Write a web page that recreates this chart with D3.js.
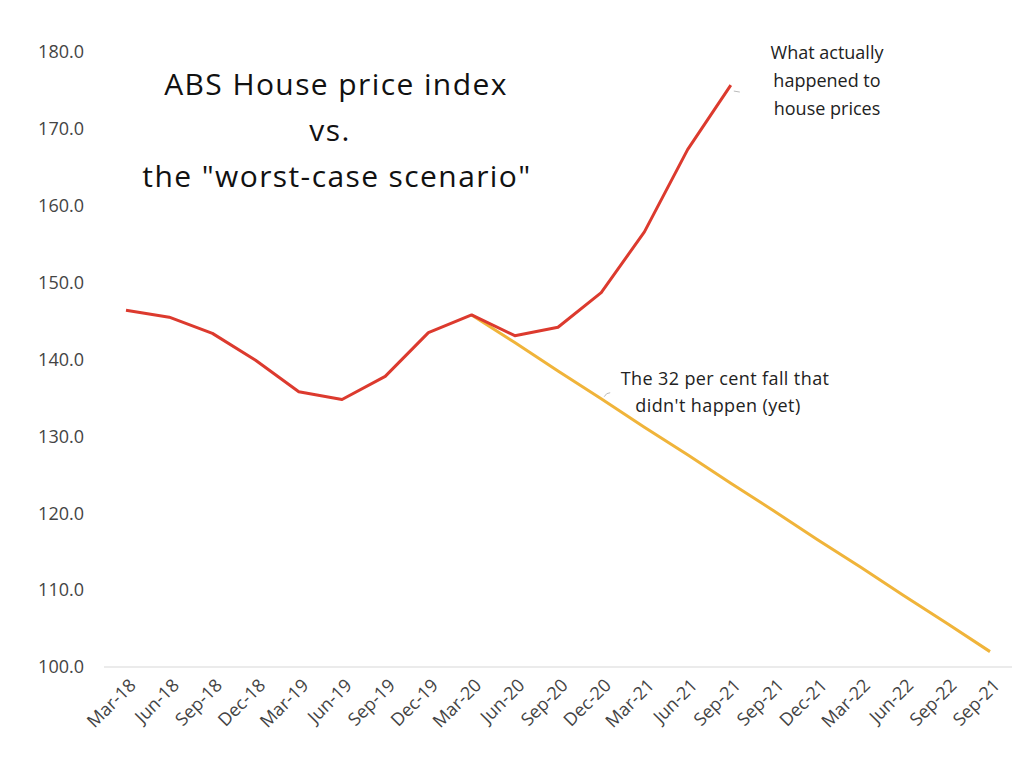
<!DOCTYPE html>
<html lang="en">
<head>
    <meta charset="UTF-8">
    <title>ABS House price index vs. the worst-case scenario</title>
    <script src="https://d3js.org/d3.v7.min.js"></script>
    <style>
        body {
            margin: 0;
            padding: 0;
            background-color: #ffffff;
        }
        svg text {
            font-family: 'Open Sans', sans-serif;
        }
    </style>
</head>
<body>
    <div id="chart"></div>
    <script>
        // quarter labels as they appear on the chart (the duplicates are in the original)
        var quarters = ['Mar-18', 'Jun-18', 'Sep-18', 'Dec-18', 'Mar-19', 'Jun-19', 'Sep-19', 'Dec-19',
            'Mar-20', 'Jun-20', 'Sep-20', 'Dec-20', 'Mar-21', 'Jun-21', 'Sep-21', 'Sep-21',
            'Dec-21', 'Mar-22', 'Jun-22', 'Sep-22', 'Sep-21'];

        // ABS house price index, Mar-18 .. Sep-21
        var actual = [146.4, 145.5, 143.4, 139.9, 135.8, 134.8, 137.8, 143.5,
            145.8, 143.1, 144.2, 148.7, 156.6, 167.3, 175.7];

        // the "worst-case" 32 per cent fall, from Mar-20 to the last quarter
        var scenarioStart = 8;
        var scenario = [145.8, 142.2, 138.5, 134.9, 131.2, 127.6, 123.9,
            120.3, 116.6, 113.0, 109.3, 105.7, 102.0];

        var yTicks = [100, 110, 120, 130, 140, 150, 160, 170, 180];

        var width = 1024, height = 768;

        var svg = d3.select("#chart")
            .append("svg")
            .attr("width", width)
            .attr("height", height);

        var x = d3.scalePoint()
            .domain(d3.range(quarters.length))
            .range([126, 990]);

        var y = d3.scaleLinear()
            .domain([100, 180])
            .range([667, 52]);

        // baseline
        svg.append("line")
            .attr("x1", 104).attr("x2", 1012)
            .attr("y1", y(100)).attr("y2", y(100))
            .attr("stroke", "#e4e4e4")
            .attr("stroke-width", 1.5);

        // y axis labels
        var yAxis = svg.append("g")
            .attr("transform", "translate(84,0)")
            .call(d3.axisLeft(y).tickValues(yTicks).tickFormat(d3.format(".1f")).tickSize(0).tickPadding(0));
        yAxis.select(".domain").remove();
        yAxis.selectAll("text")
            .style("font-size", "18px")
            .attr("fill", "#444");

        // x axis labels, rotated
        var xAxis = svg.append("g")
            .attr("transform", "translate(0," + (y(100) + 12) + ")")
            .call(d3.axisBottom(x).tickFormat(function (i) { return quarters[i]; }).tickSize(0).tickPadding(0));
        xAxis.select(".domain").remove();
        xAxis.selectAll("text")
            .style("font-size", "18px")
            .attr("fill", "#444")
            .attr("dy", "0.35em")
            .attr("transform", "translate(6,3) rotate(-45)")
            .style("text-anchor", "end");

        var line = d3.line()
            .x(function (d) { return x(d.i); })
            .y(function (d) { return y(d.v); });

        var scenarioData = scenario.map(function (v, k) { return { i: scenarioStart + k, v: v }; });
        var actualData = actual.map(function (v, k) { return { i: k, v: v }; });

        svg.append("path")
            .datum(scenarioData)
            .attr("fill", "none")
            .attr("stroke", "#f0b43a")
            .attr("stroke-width", 3)
            .attr("d", line);

        svg.append("path")
            .datum(actualData)
            .attr("fill", "none")
            .attr("stroke", "#dc3a2e")
            .attr("stroke-width", 3)
            .attr("stroke-linejoin", "round")
            .attr("d", line);

        // title
        var title = svg.append("text")
            .attr("text-anchor", "middle")
            .style("font-size", "30px")
            .style("letter-spacing", "1.4px")
            .attr("fill", "#111");
        title.append("tspan").attr("x", 336).attr("y", 95).text("ABS House price index");
        title.append("tspan").attr("x", 330).attr("y", 141).text("vs.");
        title.append("tspan").attr("x", 337).attr("y", 187).text("the \"worst-case scenario\"");

        // annotations
        var last = actualData[actualData.length - 1];
        svg.append("path")
            .attr("d", "M" + (x(last.i) + 3) + "," + (y(last.v) + 6) + " l6,1")
            .attr("stroke", "#bbb").attr("fill", "none");

        var note1 = svg.append("text")
            .attr("text-anchor", "middle")
            .style("font-size", "18px")
            .attr("fill", "#222");
        note1.append("tspan").attr("x", 827).attr("y", 59).text("What actually");
        note1.append("tspan").attr("x", 827).attr("y", 87).text("happened to");
        note1.append("tspan").attr("x", 827).attr("y", 115).text("house prices");

        var mid = scenarioData[3];
        svg.append("path")
            .attr("d", "M" + (x(mid.i) + 3) + "," + (y(mid.v) - 2) + " q2,-4 6,-4")
            .attr("stroke", "#bbb").attr("fill", "none");

        var note2 = svg.append("text")
            .attr("text-anchor", "middle")
            .style("font-size", "18px")
            .style("letter-spacing", "0.4px")
            .attr("fill", "#222");
        note2.append("tspan").attr("x", 725).attr("y", 385).text("The 32 per cent fall that");
        note2.append("tspan").attr("x", 718).attr("y", 412).text("didn't happen (yet)");
    </script>
</body>
</html>
